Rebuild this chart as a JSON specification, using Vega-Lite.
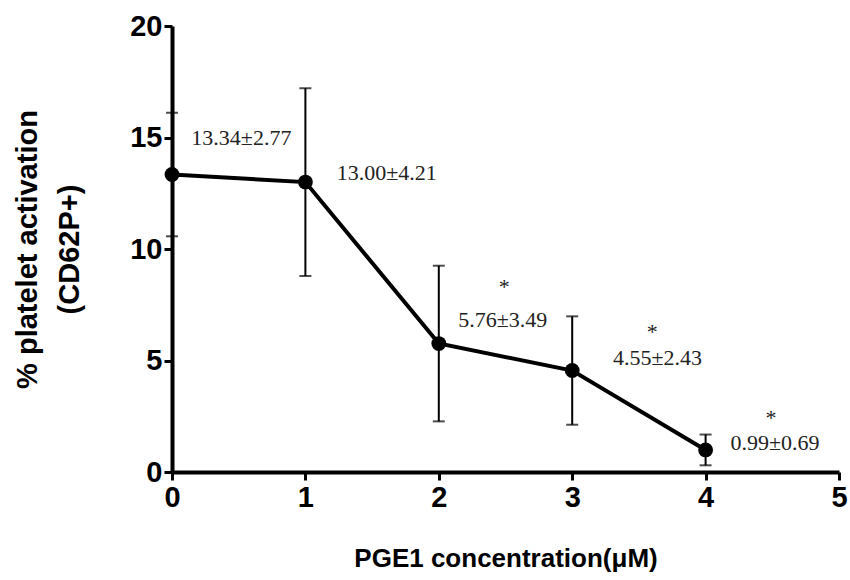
{
  "$schema": "https://vega.github.io/schema/vega-lite/v6.json",
  "width": 667,
  "height": 446,
  "autosize": {"type": "none"},
  "padding": {"left": 172, "top": 26, "right": 11, "bottom": 108},
  "background": "white",
  "config": {
    "view": {"stroke": null},
    "axis": {
      "grid": false,
      "labelFlush": false,
      "domainColor": "black",
      "domainWidth": 4,
      "tickColor": "black",
      "tickWidth": 3,
      "tickSize": 8,
      "labelFont": "Liberation Sans",
      "labelFontWeight": "bold",
      "labelFontSize": 29,
      "labelColor": "black",
      "titleFont": "Liberation Sans",
      "titleFontWeight": "bold",
      "titleColor": "black"
    }
  },
  "datasets": {
    "points": [
      {"conc": 0, "mean": 13.34, "sd": 2.77},
      {"conc": 1, "mean": 13.00, "sd": 4.21},
      {"conc": 2, "mean": 5.76, "sd": 3.49},
      {"conc": 3, "mean": 4.55, "sd": 2.43},
      {"conc": 4, "mean": 0.99, "sd": 0.69}
    ],
    "notes": [
      {"x": 0.52, "y": 15.0, "label": "13.34±2.77"},
      {"x": 1.61, "y": 13.4, "label": "13.00±4.21"},
      {"x": 2.48, "y": 6.8, "label": "5.76±3.49"},
      {"x": 3.64, "y": 5.1, "label": "4.55±2.43"},
      {"x": 4.52, "y": 1.3, "label": "0.99±0.69"},
      {"x": 2.49, "y": 8.3, "label": "*"},
      {"x": 3.6, "y": 6.3, "label": "*"},
      {"x": 4.49, "y": 2.4, "label": "*"}
    ]
  },
  "layer": [
    {
      "data": {"name": "points"},
      "mark": {"type": "errorbar", "ticks": {"size": 12, "thickness": 2, "color": "black"}, "rule": {"strokeWidth": 2, "color": "black"}},
      "encoding": {
        "x": {"field": "conc", "type": "quantitative", "scale": {"domain": [0, 5], "nice": false},
          "axis": {"values": [0, 1, 2, 3, 4, 5], "format": "d", "title": "PGE1 concentration(μM)", "titleFontSize": 26, "titlePadding": 33, "labelPadding": 3}},
        "y": {"field": "mean", "type": "quantitative", "scale": {"domain": [0, 20], "nice": false},
          "axis": {"values": [0, 5, 10, 15, 20], "format": "d", "title": ["% platelet activation", "(CD62P+)"], "titleFontSize": 29, "titlePadding": 45, "labelPadding": 2, "titleLineHeight": 42}},
        "yError": {"field": "sd"}
      }
    },
    {
      "data": {"name": "points"},
      "mark": {"type": "line", "color": "black", "strokeWidth": 4},
      "encoding": {
        "x": {"field": "conc", "type": "quantitative"},
        "y": {"field": "mean", "type": "quantitative"}
      }
    },
    {
      "data": {"name": "points"},
      "mark": {"type": "point", "filled": true, "color": "black", "opacity": 1, "size": 220, "shape": "circle"},
      "encoding": {
        "x": {"field": "conc", "type": "quantitative"},
        "y": {"field": "mean", "type": "quantitative"}
      }
    },
    {
      "data": {"name": "notes"},
      "mark": {"type": "text", "font": "Liberation Serif", "fontSize": 22, "color": "#222222", "align": "center", "baseline": "middle"},
      "encoding": {
        "x": {"field": "x", "type": "quantitative"},
        "y": {"field": "y", "type": "quantitative"},
        "text": {"field": "label"}
      }
    }
  ]
}
